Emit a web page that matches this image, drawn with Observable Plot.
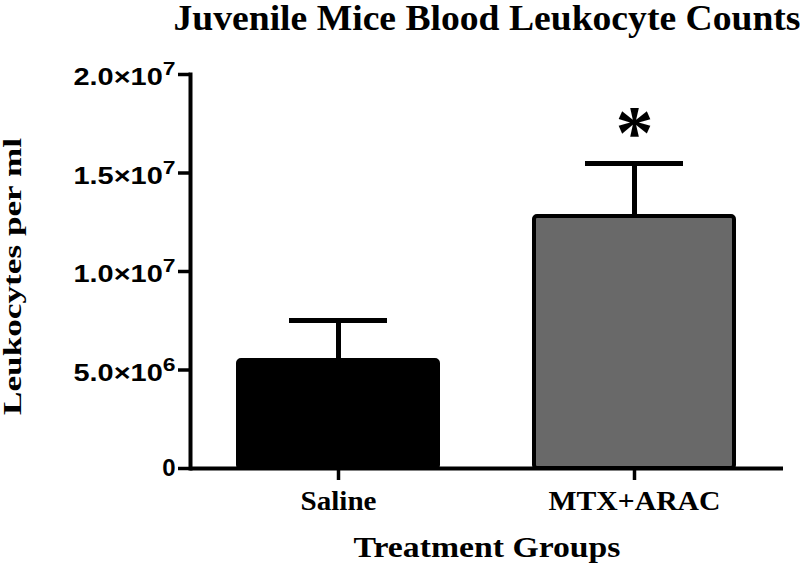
<!DOCTYPE html>
<html><head><meta charset="utf-8">
<script src="https://cdn.jsdelivr.net/npm/d3@7"></script>
<script src="https://cdn.jsdelivr.net/npm/@observablehq/plot@0.6"></script>
<style>
body{margin:0;background:#fff;}
#wrap{width:800px;height:563px;}
</style></head><body><div id="wrap"></div>
<script>
// ---- data ----
const groups = ["Saline", "MTX+ARAC"];
const means = [5.48e6, 12.79e6];
const errUpper = [2.03e6, 2.69e6];
const barFills = ["#000000", "#696969"];
const significant = [false, true];
const yTicks = [0, 5e6, 1e7, 1.5e7, 2e7];
const yTickLabels = ["0", "5.0×10^6", "1.0×10^7", "1.5×10^7", "2.0×10^7"];
const titleText = "Juvenile Mice Blood Leukocyte Counts";
const yLabelText = "Leukocytes per ml";
const xLabelText = "Treatment Groups";
const sigText = "*";

const data = groups.map((g, i) => ({group: g, mean: means[i], top: means[i] + errUpper[i], fill: barFills[i], sig: significant[i]}));

const serif = "'Liberation Serif', 'Times New Roman', serif";
const sans = "'Liberation Sans', Arial, sans-serif";

const chart = Plot.plot({
  width: 800,
  height: 563,
  marginLeft: 190,
  marginRight: 17,
  marginTop: 74,
  marginBottom: 95,
  style: {background: "#fff", color: "#000"},
  x: {domain: groups, paddingInner: 0.324, paddingOuter: 0.1636, label: null},
  y: {domain: [0, 2e7], label: null},
  color: {type: "identity"},
  marks: [
    Plot.ruleX(data, {x: "group", y1: "mean", y2: "top", stroke: "#000", strokeWidth: 5}),
    Plot.tickY(data, {x: "group", y: "top", stroke: "#000", strokeWidth: 5, insetLeft: 51, insetRight: 51}),
    Plot.barY(data, {x: "group", y: "mean", fill: "fill", stroke: "#000", strokeWidth: 4, rx: 3}),
    Plot.text(data.filter(d => d.sig), {x: "group", y: "top", text: () => sigText, fontFamily: serif, fontWeight: "bold", fontSize: 76, dy: -30, fill: "#000"}),
    Plot.frame({anchor: "left", stroke: "#000", strokeWidth: 4}),
    Plot.ruleY([0], {stroke: "#000", strokeWidth: 4}),
    Plot.axisY({ticks: yTicks, tickFormat: d => yTickLabels[yTicks.indexOf(d)], tickSize: 12, tickPadding: 3, strokeWidth: 3.5, fontFamily: sans, fontWeight: "bold", fontSize: 24, fill: "#000", label: null}),
    Plot.axisX({tickSize: 12, tickPadding: 10, strokeWidth: 3.5, fontFamily: serif, fontWeight: "bold", fontSize: 27, fill: "#000", label: null}),
    Plot.text([titleText], {frameAnchor: "top", text: d => d, textAnchor: "middle", lineAnchor: "bottom", dy: -45, fontFamily: serif, fontWeight: "bold", fontSize: 35, fill: "#000"}),
    Plot.text([xLabelText], {frameAnchor: "bottom", text: d => d, textAnchor: "middle", lineAnchor: "bottom", dy: 88, fontFamily: serif, fontWeight: "bold", fontSize: 30, fill: "#000"}),
    Plot.text([yLabelText], {frameAnchor: "left", text: d => d, textAnchor: "middle", lineAnchor: "bottom", rotate: -90, dx: -170, dy: 5, fontFamily: serif, fontWeight: "bold", fontSize: 25, fill: "#000"})
  ]
});

document.getElementById("wrap").appendChild(chart);

// superscripts and text widths
const widths = {};
widths[titleText] = 627;
widths[yLabelText] = 277;
widths[xLabelText] = 267;
widths["Saline"] = 76;
widths["MTX+ARAC"] = 172;
chart.querySelectorAll("text").forEach(t => {
  const s = t.textContent;
  if (s.includes("^")) {
    const [base, exp] = s.split("^");
    t.textContent = "";
    const ns = "http://www.w3.org/2000/svg";
    const b = document.createElementNS(ns, "tspan");
    b.textContent = base;
    b.setAttribute("dy", "3");
    const e = document.createElementNS(ns, "tspan");
    e.textContent = exp;
    e.setAttribute("dy", "-10");
    e.setAttribute("font-size", "19");
    t.appendChild(b); t.appendChild(e);
    t.setAttribute("textLength", 102);
    t.setAttribute("lengthAdjust", "spacingAndGlyphs");
  } else if (widths[s]) {
    t.setAttribute("textLength", widths[s]);
    t.setAttribute("lengthAdjust", "spacingAndGlyphs");
  }
});
</script>
</body></html>
